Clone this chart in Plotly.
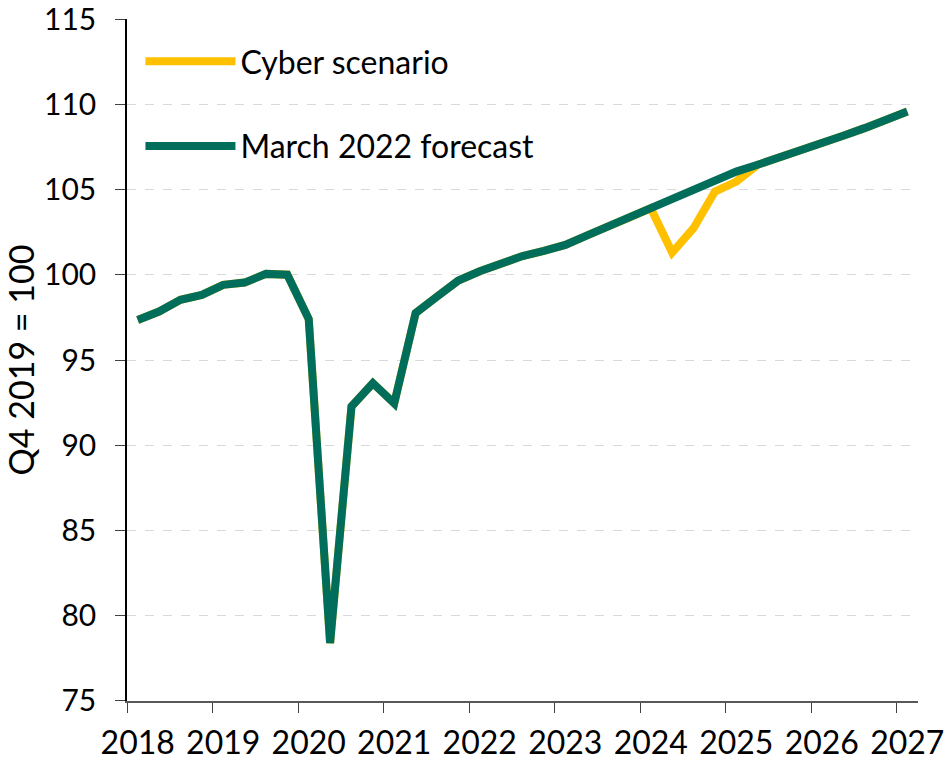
import plotly.graph_objects as go

years = ["2018", "2019", "2020", "2021", "2022", "2023", "2024", "2025", "2026", "2027"]
quarters = [f"{y} Q{q}" for y in range(2018, 2028) for q in range(1, 5)][:37]

forecast = [97.35, 97.84, 98.53, 98.82, 99.41, 99.54, 100.05, 100.0,
            97.4, 78.4, 92.27, 93.64, 92.46, 97.75, 98.72, 99.66,
            100.2, 100.7, 101.1, 101.4, 101.75, 102.3, 102.85, 103.4,
            103.9, 104.5, 105.05, 105.6, 106.05, 106.45, 106.85, 107.3,
            107.72, 108.15, 108.6, 109.09, 109.58]
cyber = forecast[:24] + [103.9, 101.3, 102.73, 104.88, 105.47, 106.45,
                         106.85, 107.3, 107.72, 108.15, 108.6, 109.09, 109.58]

GREEN = "#006E5A"
YELLOW = "#FFC000"
FONT = "Lato"

idx = list(range(len(quarters)))

fig = go.Figure()
fig.add_trace(go.Scatter(x=idx, y=cyber, mode="lines", name="Cyber scenario",
                         line=dict(color=YELLOW, width=8), legendgroup="a",
                         hovertext=quarters))
fig.add_trace(go.Scatter(x=idx, y=forecast, mode="lines", name="March 2022 forecast",
                         line=dict(color=GREEN, width=8), legendgroup="b",
                         hovertext=quarters))

fig.update_layout(
    width=948, height=760,
    margin=dict(l=127, r=30, t=19, b=59),
    plot_bgcolor="white", paper_bgcolor="white",
    font=dict(family=FONT, color="black", size=30),
    showlegend=True,
    legend=dict(x=0.017, y=0.978, xanchor="left", yanchor="top",
                bgcolor="rgba(0,0,0,0)", font=dict(size=32, family=FONT),
                itemwidth=90, tracegroupgap=40, traceorder="grouped"),
)
fig.update_xaxes(
    range=[-0.5, 36.5], automargin=False,
    tickmode="array", tickvals=[i * 4 for i in range(10)], ticktext=years,
    ticks="outside", ticklen=0, tickangle=0, ticklabelstandoff=13,
    ticklabeloverflow="allow",
    tickfont=dict(size=32, family=FONT),
    showline=True, linecolor="#595959", linewidth=1.5,
    showgrid=False, zeroline=False,
    minor=dict(tickmode="array", tickvals=[i * 4 - 0.5 for i in range(10)],
               ticks="outside", ticklen=10, tickcolor="#404040", tickwidth=1.2,
               showgrid=False),
)
fig.update_yaxes(
    range=[74.999, 115.001], automargin=False,
    tickmode="array", tickvals=list(range(75, 116, 5)),
    ticks="outside", ticklen=10, tickcolor="#404040", tickwidth=1.2,
    ticklabelstandoff=13, ticklabeloverflow="allow",
    tickfont=dict(size=30, family=FONT),
    showline=True, linecolor="black", linewidth=1.5,
    showgrid=True, gridcolor="#D9D9D9", griddash="dash", gridwidth=1,
    zeroline=False,
    title=dict(text="Q4 2019 = 100", font=dict(size=34, family=FONT), standoff=8),
)

# remove the default page margin so the 948x760 figure fills the window exactly
fig.write_html("out.html", config={"displayModeBar": False},
               post_script="document.body.style.margin='0';document.body.style.overflow='hidden';")
